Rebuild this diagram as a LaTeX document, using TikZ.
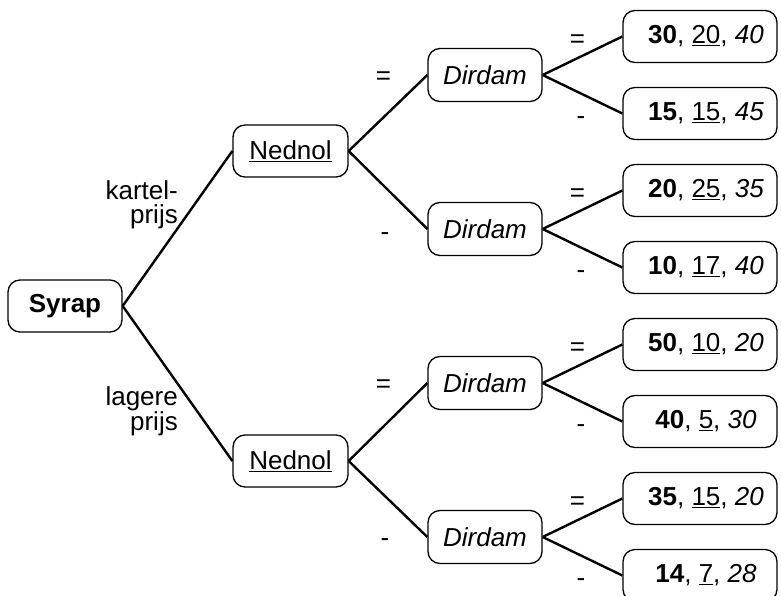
\documentclass[tikz,border=0pt]{standalone}
\usepackage{fontspec}
\setmainfont{Liberation Sans}
\begin{document}
\begin{tikzpicture}[x=1pt,y=-1pt,
  box/.style={draw, line width=1.3pt, rounded corners=12pt, align=center, inner sep=0pt},
  rootbox/.style={box, minimum width=114pt, minimum height=52pt},
  midbox/.style={box, minimum width=115pt, minimum height=52pt},
  decbox/.style={box, minimum width=114pt, minimum height=53pt},
  leafbox/.style={box, minimum width=154pt, minimum height=52pt},
  conn/.style={line width=2.4pt},
  lbl/.style={inner sep=0pt},
  every node/.style={font=\fontsize{26}{24}\selectfont}]
\useasboundingbox (0,0) rectangle (781,596);
% nodes
\node[rootbox] (S) at (65,306) {\textbf{Syrap}};
\node[midbox] (N1) at (290.5,151) {\underline{Nednol}};
\node[midbox] (N2) at (290.5,461) {\underline{Nednol}};
\node[decbox] (D1) at (485,75) {\textit{Dirdam}};
\node[decbox] (D2) at (485,229) {\textit{Dirdam}};
\node[decbox] (D3) at (485,383) {\textit{Dirdam}};
\node[decbox] (D4) at (485,537) {\textit{Dirdam}};
\node[leafbox] (L1) at (700,36.5) {\hspace*{12pt}\textbf{30}, \underline{20}, \textit{40}};
\node[leafbox] (L2) at (700,113.5) {\hspace*{12pt}\textbf{15}, \underline{15}, \textit{45}};
\node[leafbox] (L3) at (700,190.5) {\hspace*{12pt}\textbf{20}, \underline{25}, \textit{35}};
\node[leafbox] (L4) at (700,267.5) {\hspace*{12pt}\textbf{10}, \underline{17}, \textit{40}};
\node[leafbox] (L5) at (700,344.5) {\hspace*{12pt}\textbf{50}, \underline{10}, \textit{20}};
\node[leafbox] (L6) at (700,421.5) {\hspace*{12pt}\textbf{40}, \underline{5}, \textit{30}};
\node[leafbox] (L7) at (700,498.5) {\hspace*{12pt}\textbf{35}, \underline{15}, \textit{20}};
\node[leafbox] (L8) at (700,575.5) {\hspace*{12pt}\textbf{14}, \underline{7}, \textit{28}};
% connectors
\draw[conn] (S.east) -- (N1.west);
\draw[conn] (S.east) -- (N2.west);
\draw[conn] (N1.east) -- (D1.west);
\draw[conn] (N1.east) -- (D2.west);
\draw[conn] (N2.east) -- (D3.west);
\draw[conn] (N2.east) -- (D4.west);
\draw[conn] (D1.east) -- (L1.west);
\draw[conn] (D1.east) -- (L2.west);
\draw[conn] (D2.east) -- (L3.west);
\draw[conn] (D2.east) -- (L4.west);
\draw[conn] (D3.east) -- (L5.west);
\draw[conn] (D3.east) -- (L6.west);
\draw[conn] (D4.east) -- (L7.west);
\draw[conn] (D4.east) -- (L8.west);
% labels
\node[lbl, align=right, anchor=east] (k1) at (178,205) {kartel-\\prijs};
\node[lbl, align=right, anchor=east] (k2) at (178,411) {lagere\\prijs};
\node[lbl] (e1) at (383.5,78) {=};
\node[lbl] (m1) at (385,237) {-};
\node[lbl] (e2) at (383.5,386) {=};
\node[lbl] (m2) at (385,543) {-};
\node[lbl] (e3) at (577.5,41) {=};
\node[lbl] (m3) at (581,121) {-};
\node[lbl] (e4) at (577.5,195) {=};
\node[lbl] (m4) at (581,275) {-};
\node[lbl] (e5) at (577.5,349) {=};
\node[lbl] (m5) at (581,429) {-};
\node[lbl] (e6) at (577.5,503) {=};
\node[lbl] (m6) at (581,583) {-};
\end{tikzpicture}
\end{document}
